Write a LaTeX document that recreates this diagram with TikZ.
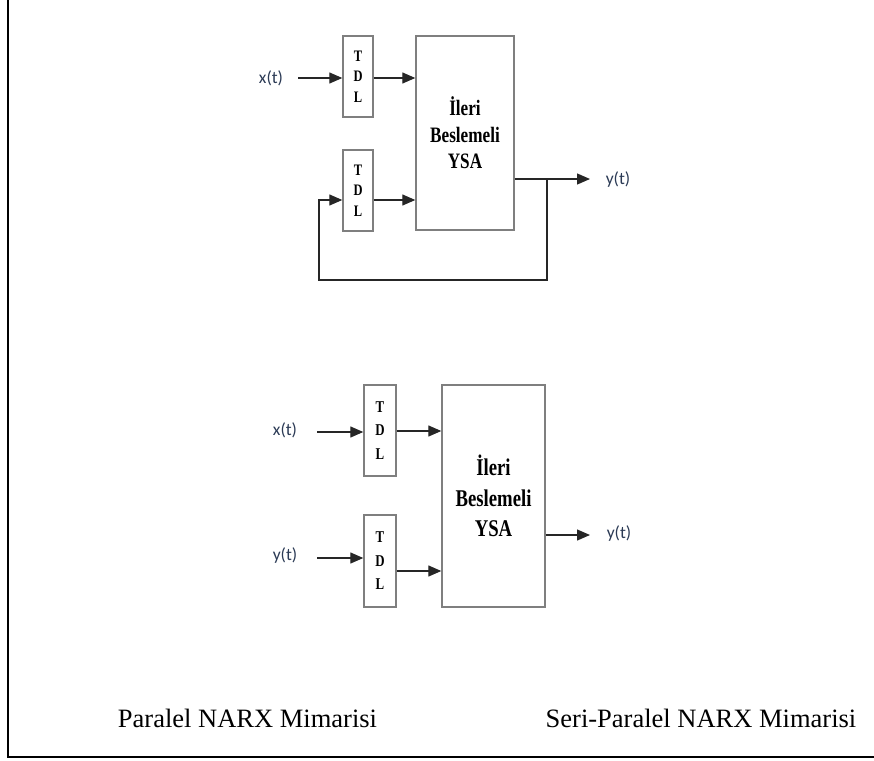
\documentclass[tikz,border=0pt]{standalone}
\usepackage{fontspec}
\setmainfont{Liberation Serif}
\newfontfamily\labfont{Carlito}
\newfontfamily\cserif[FakeStretch=0.78]{Liberation Serif}
\usetikzlibrary{arrows.meta}
\definecolor{boxgray}{HTML}{7F7F7F}
\definecolor{labcol}{HTML}{2B3A55}
\begin{document}
\begin{tikzpicture}[x=1pt,y=-1pt,
  blk/.style={draw=boxgray,line width=1.4pt,fill=white,inner sep=0pt,align=center},
  tdl/.style={blk,minimum width=30pt,minimum height=81pt,font=\cserif\bfseries\fontsize{16}{20.5}\selectfont},
  tdlb/.style={blk,minimum width=32pt,minimum height=91pt,font=\cserif\bfseries\fontsize{16.5}{23.5}\selectfont},
  ysa/.style={blk,font=\cserif\bfseries\fontsize{22}{26.5}\selectfont},
  ysab/.style={blk,font=\cserif\bfseries\fontsize{24}{30.5}\selectfont},
  arr/.style={line width=1.3pt,draw=black!85,line join=miter,-{Triangle[length=13pt,width=11pt]}},
  lab/.style={font=\labfont\fontsize{17.5}{17.5}\selectfont,text=labcol,inner sep=0pt},
  captxt/.style={font=\fontsize{26.5}{30}\selectfont,anchor=base,inner sep=0pt}]
\useasboundingbox (0,0) rectangle (874,760);
\draw[line width=2pt] (8,0) -- (8,757) -- (874,757);

% ---------- Parallel NARX ----------
\node[tdl] (t1) at (358,76.5) {T\\D\\L};
\node[tdl] (t2) at (358,190.5) {T\\D\\L};
\node[ysa,minimum width=98pt,minimum height=194pt] (b1) at (465,133) {İleri\\Beslemeli\\YSA};
\node[lab] (x1) at (271,78) {x(t)};
\node[lab] (y1) at (618,180) {y(t)};
\coordinate (x1s) at (298,78);
\coordinate (t2in) at (319,200);
\coordinate (o1) at (590,179);
\coordinate (j1) at (547,179);
\coordinate (fb) at (547,280);
\draw[arr] (x1s) -- (x1s -| t1.west);
\draw[arr] (t1.east |- x1s) -- (b1.west |- x1s);
\draw[arr] (t2.east |- t2in) -- (b1.west |- t2in);
\draw[arr] (b1.east |- o1) -- (o1);
\draw[arr] (j1) -- (fb) -- (fb -| t2in) -- (t2in) -- (t2.west |- t2in);

% ---------- Series-Parallel NARX ----------
\node[tdlb] (t3) at (380,430.5) {T\\D\\L};
\node[tdlb,minimum height=92pt] (t4) at (380,561) {T\\D\\L};
\node[ysab,minimum width=103pt,minimum height=222pt] (b2) at (493.5,496) {İleri\\Beslemeli\\YSA};
\node[lab] (x2) at (285,430) {x(t)};
\node[lab] (y2) at (285,556) {y(t)};
\node[lab] (y3) at (619,534) {y(t)};
\coordinate (x2s) at (317,432);
\coordinate (y2s) at (317,558);
\coordinate (t3o) at (396,431);
\coordinate (t4o) at (396,571);
\coordinate (o2) at (590,535);
\draw[arr] (x2s) -- (x2s -| t3.west);
\draw[arr] (y2s) -- (y2s -| t4.west);
\draw[arr] (t3.east |- t3o) -- (b2.west |- t3o);
\draw[arr] (t4.east |- t4o) -- (b2.west |- t4o);
\draw[arr] (b2.east |- o2) -- (o2);

% ---------- captions ----------
\node[captxt] (c1) at (247.5,727) {Paralel NARX Mimarisi};
\node[captxt] (c2) at (701,727) {Seri-Paralel NARX Mimarisi};
\end{tikzpicture}
\end{document}
